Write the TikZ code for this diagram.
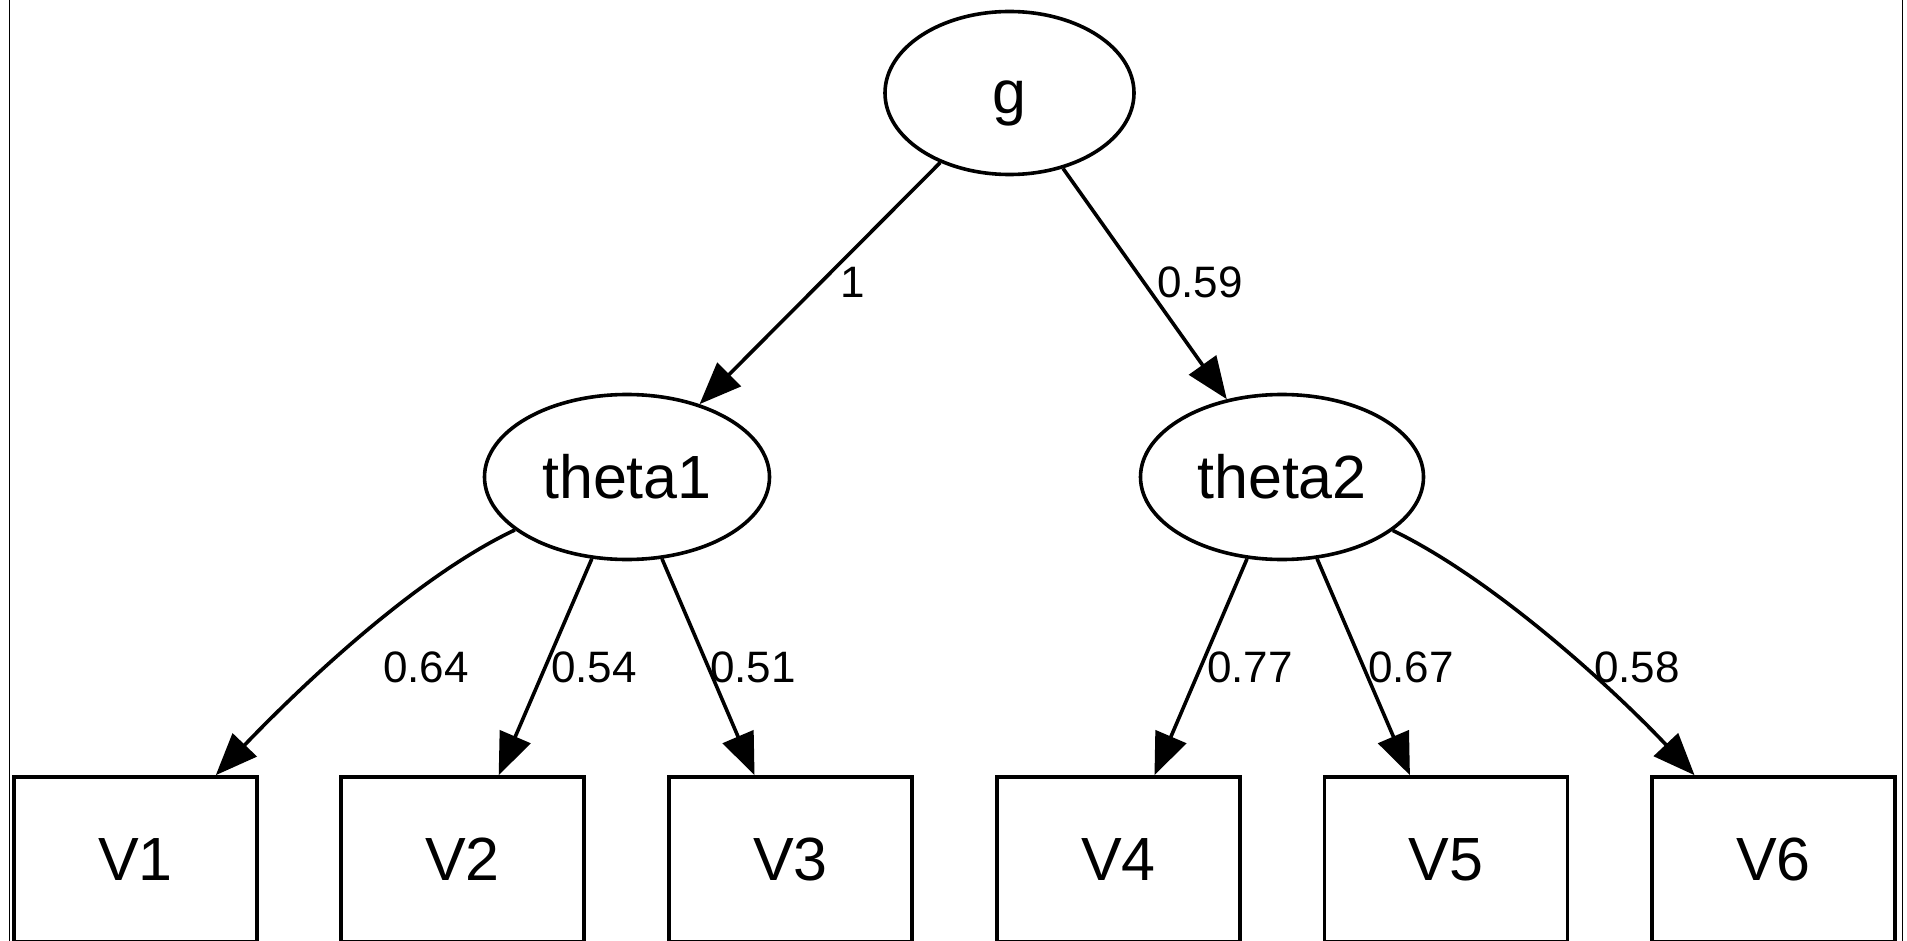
\documentclass[tikz,border=0pt]{standalone}
\usepackage{fontspec}
\setmainfont{Liberation Sans}
\usetikzlibrary{shapes.geometric,arrows.meta}
\begin{document}
\begin{tikzpicture}[x=1pt,y=1pt,
  latent/.style={ellipse,draw,line width=3.6pt,inner sep=0pt,
    font=\fontsize{61}{61}\selectfont,text height=42pt,text depth=0pt},
  observed/.style={rectangle,draw,line width=3.6pt,inner sep=0pt,
    minimum width=243pt,minimum height=165pt,
    font=\fontsize{61}{61}\selectfont,text height=42pt,text depth=0pt},
  loading/.style={line width=3.6pt,-{Triangle[length=42pt,width=33pt]}},
  wt/.style={font=\fontsize{44}{44}\selectfont,anchor=base,inner sep=0pt},
  frameline/.style={line width=1.3pt}
]
\useasboundingbox (0,0) rectangle (1907,-941);
% frame lines
\draw[frameline] (9.5,0) -- (9.5,-941);
\draw[frameline] (1902.7,0) -- (1902.7,-941);
% latent nodes
\node[latent,minimum width=249pt,minimum height=163pt] (g) at (1009.5,-93) {g};
\node[latent,minimum width=285pt,minimum height=165pt] (theta1) at (627,-477) {theta1};
\node[latent,minimum width=283pt,minimum height=165pt] (theta2) at (1282,-477) {theta2};
% observed nodes
\node[observed] (V1) at (135.5,-859.5) {V1};
\node[observed] (V2) at (462.5,-859.5) {V2};
\node[observed] (V3) at (790.5,-859.5) {V3};
\node[observed] (V4) at (1118.5,-859.5) {V4};
\node[observed] (V5) at (1446,-859.5) {V5};
\node[observed] (V6) at (1773.5,-859.5) {V6};
% edges
\draw[loading] (g) -- (theta1);
\draw[loading] (g) -- (theta2);
\draw[loading] (theta1) to[out=205.6,in=46.7,looseness=0.75] (V1);
\draw[loading] (theta1) -- (V2);
\draw[loading] (theta1) -- (V3);
\draw[loading] (theta2) -- (V4);
\draw[loading] (theta2) -- (V5);
\draw[loading] (theta2) to[out=334.5,in=133.3,looseness=0.75] (V6);
% edge labels
\node[wt] (w1) at (853,-298) {1};
\node[wt] (w2) at (1200,-298) {0.59};
\node[wt] (w3) at (426,-682) {0.64};
\node[wt] (w4) at (594,-682) {0.54};
\node[wt] (w5) at (753,-682) {0.51};
\node[wt] (w6) at (1250,-682) {0.77};
\node[wt] (w7) at (1411,-682) {0.67};
\node[wt] (w8) at (1637,-682) {0.58};
\end{tikzpicture}
\end{document}
